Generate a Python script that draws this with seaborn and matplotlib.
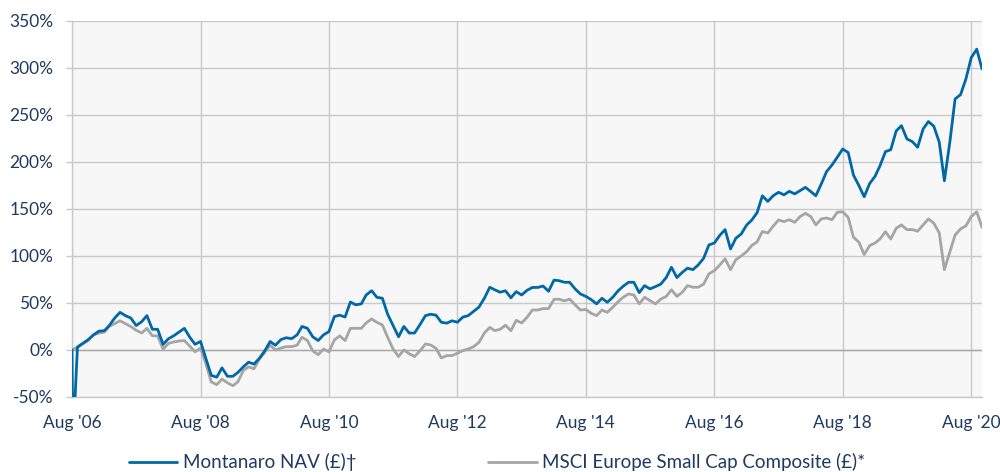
import pandas as pd
import matplotlib
matplotlib.use("Agg")
import matplotlib.pyplot as plt
import seaborn as sns

# ====================================
# DADOS (retorno acumulado, %)
# ====================================

inicio = "2006-08-01"
n_meses = 171

montanaro_nav = [
    0, 3, 7, 11, 16, 20, 20.5, 26, 34, 40,
    36.5, 34, 26, 30, 36.5, 22, 22, 6, 12, 15,
    19, 23, 13.5, 6, 9, -9.5, -27, -29, -19, -28,
    -28, -24, -18, -13, -15, -9, -1, 9, 5, 11,
    13, 12, 16, 25, 23, 14, 10, 16, 19.5, 35.5,
    37, 35, 51, 48, 49, 58.5, 63, 56, 55, 38,
    26, 14, 25, 18, 18, 27, 36.5, 38, 37, 29.5,
    28.5, 31, 29.5, 35, 36.5, 41, 45.5, 55, 66.7, 64,
    61.4, 63, 55.5, 62, 58.5, 63.5, 66.5, 66.5, 68, 62.4,
    74.3, 73.7, 72, 72, 65, 59.6, 57, 53.5, 49, 55,
    50.7, 56, 63, 67.7, 72, 72, 61, 68.4, 65, 67.4,
    70, 77, 88, 77, 82.6, 87, 85.4, 90.4, 97.5, 111.7,
    113.8, 122, 128, 107.4, 118.8, 123.4, 133, 138, 146, 164,
    158, 164, 167.7, 165, 168.8, 166, 169.5, 173, 168.4, 164,
    176.6, 189.7, 196.8, 205, 213.8, 210, 186, 174.8, 163, 177,
    184.8, 196, 211, 213, 233, 238.6, 224.5, 221.6, 215.6, 235,
    243, 238, 221, 180, 221, 267, 271.6, 288, 311, 320,
    299,
]

# ponto espúrio no início da série do NAV (aparece no gráfico original)
nav_glitch_data = "2006-08-06"
nav_glitch_valor = -100

msci_small_cap = [
    0, 3, 6.5, 10, 16, 18, 19, 25, 28, 31,
    28, 25, 21, 18, 23, 15, 15, 1, 7, 8.5,
    9.5, 10, 4, -2, 2, -15, -34, -37, -31, -35,
    -38, -34, -22, -18, -20, -10, -2.5, 5, 0, 2,
    3.5, 3.5, 5, 13.5, 10, -1, -5, 1, -2, 10.6,
    15, 10, 23, 23, 23, 28.7, 33, 29.4, 26.6, 13.5,
    1, -7, 0, -4, -7, -1, 6.4, 5.3, 1.8, -8.5,
    -6, -6, -3.5, -0.7, 1, 3.5, 8, 18, 24, 20.5,
    22, 26.3, 20.5, 31.5, 28.7, 34.8, 42.5, 42.5, 44, 44,
    53.8, 54, 52.2, 54, 48, 42.5, 43, 39, 36.5, 42.5,
    40, 45.4, 51.4, 56, 59.6, 58.5, 49, 56, 52.5, 49,
    54, 57, 64, 57, 61.4, 68.4, 66.7, 66.7, 70, 81,
    84.4, 90.4, 97, 85.4, 96, 100, 104.6, 111, 115, 126,
    124.5, 131.6, 138.3, 136.5, 138.6, 135.8, 141.8, 145.4, 141.8, 133,
    139.4, 140.4, 138.6, 146.5, 147, 141, 120, 114.6, 101.4, 111,
    113.8, 118, 125.8, 118, 129.4, 133, 128, 128, 126.3, 133,
    139.4, 134.8, 124.5, 85.4, 104, 122.3, 128.7, 132, 142, 147,
    130.5,
]

anos_ticks = ["2006", "2008", "2010", "2012", "2014", "2016", "2018", "2020"]
rotulos_x = ["Aug '06", "Aug '08", "Aug '10", "Aug '12",
             "Aug '14", "Aug '16", "Aug '18", "Aug '20"]
valores_y = [-50, 0, 50, 100, 150, 200, 250, 300, 350]

nome_nav = "Montanaro NAV (£)†"
nome_msci = "MSCI Europe Small Cap Composite (£)*"

# ====================================
# MONTAR TABELAS
# ====================================

datas = pd.date_range(inicio, periods=n_meses, freq="MS")

df_nav = pd.DataFrame({
    "Data": [datas[0], pd.Timestamp(nav_glitch_data)] + list(datas[1:]),
    "Retorno": [montanaro_nav[0], nav_glitch_valor] + montanaro_nav[1:],
})

df_msci = pd.DataFrame({
    "Data": datas,
    "Retorno": msci_small_cap,
})

# ====================================
# ESTILO
# ====================================

sns.set_style("white")
plt.rcParams["font.family"] = ["Lato", "DejaVu Sans"]

cor_texto = "#1f3a60"
cor_nav = "#0068a6"
cor_msci = "#a5a5a5"
cor_grade = "#c9c9c9"

# ====================================
# GRÁFICO
# ====================================

fig = plt.figure(figsize=(10, 4.72), dpi=100)
ax = fig.add_axes([0.072, 0.159, 0.910, 0.7966])
ax.set_facecolor("#f7f7f7")

ax.set_axisbelow(True)
ax.grid(True, axis="both", color=cor_grade, linewidth=1.0)

sns.lineplot(
    data=df_msci, x="Data", y="Retorno",
    color=cor_msci, linewidth=2.0, ax=ax, label=nome_msci, zorder=3
)
sns.lineplot(
    data=df_nav, x="Data", y="Retorno",
    color=cor_nav, linewidth=2.0, ax=ax, label=nome_nav, zorder=4
)

ax.axhline(0, color="#a9a9a9", linewidth=1.0, zorder=1)

ax.set_xlim(datas[0], datas[-1])
ax.set_ylim(-50, 350)

ax.set_xticks([pd.Timestamp(a + "-08-01") for a in anos_ticks])
ax.set_xticklabels(rotulos_x)
ax.set_yticks(valores_y)
ax.set_yticklabels([f"{v}%" for v in valores_y])

ax.tick_params(axis="x", length=0, pad=13, labelsize=12.5, labelcolor=cor_texto)
ax.tick_params(axis="y", length=4.5, width=1.0, color=cor_grade, pad=9,
               labelsize=12.5, labelcolor=cor_texto, left=True)

ax.set_xlabel("")
ax.set_ylabel("")

for lado in ["top", "right"]:
    ax.spines[lado].set_visible(False)
ax.spines["left"].set_color(cor_grade)
ax.spines["bottom"].set_color(cor_grade)
ax.spines["left"].set_linewidth(1.0)
ax.spines["bottom"].set_linewidth(1.0)

# ====================================
# LEGENDA
# ====================================

handles, labels = ax.get_legend_handles_labels()
ax.get_legend().remove()
ordem = [labels.index(nome_nav), labels.index(nome_msci)]

fig.legend(
    [handles[i] for i in ordem],
    [labels[i] for i in ordem],
    loc="center",
    bbox_to_anchor=(0.497, 0.021),
    ncol=2,
    frameon=False,
    fontsize=13.5,
    handlelength=2.6,
    handletextpad=0.3,
    columnspacing=7.0,
    labelcolor=cor_texto,
    borderpad=0.1,
)

fig.savefig("out.png", dpi=100)
plt.close(fig)
